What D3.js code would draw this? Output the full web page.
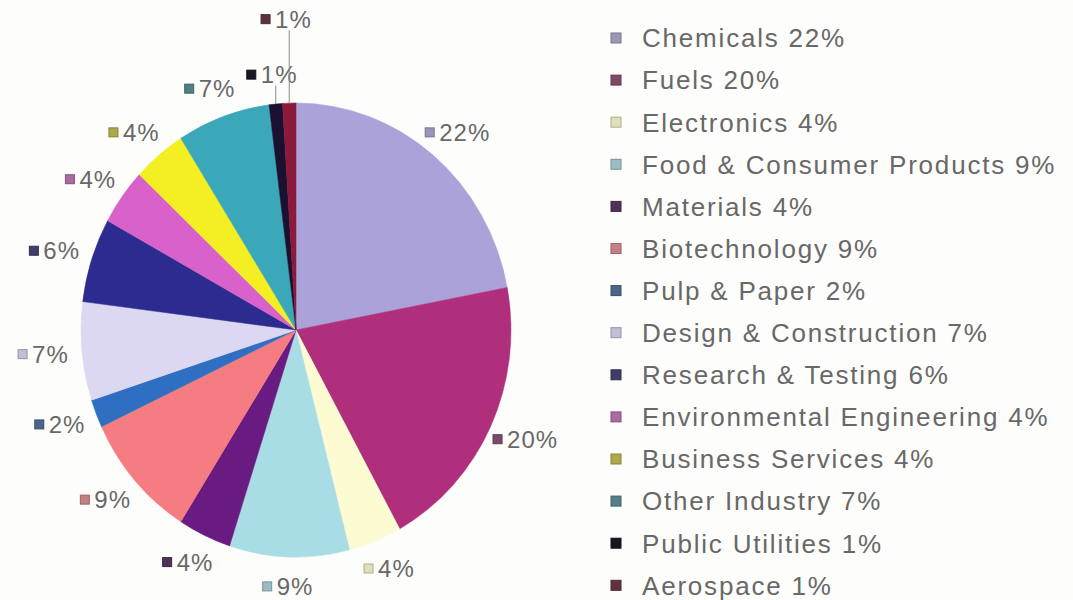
<!DOCTYPE html>
<html>
<head>
<meta charset="utf-8">
<script src="https://cdn.jsdelivr.net/npm/d3@7"></script>
<style>
  html, body { margin: 0; padding: 0; background: #fdfdfb; }
  svg { display: block; }
  text { font-family: "Liberation Sans", Arial, sans-serif; fill: #686868; }
</style>
</head>
<body>
<svg id="chart"></svg>
<script>
// industry sectors, clockwise from 12 o'clock
const categories = [
  "Chemicals", "Fuels", "Electronics", "Food & Consumer Products",
  "Materials", "Biotechnology", "Pulp & Paper", "Design & Construction",
  "Research & Testing", "Environmental Engineering", "Business Services",
  "Other Industry", "Public Utilities", "Aerospace"
];
const shares = [22, 20, 4, 9, 4, 9, 2, 7, 6, 4, 4, 7, 1, 1];
const sliceColors = [
  "#aaa2d8", "#b02f7c", "#fcfbd2", "#a9dde6",
  "#6a1b82", "#f57d82", "#2f6fc2", "#dcd8f1",
  "#2b2b90", "#d862c9", "#f3ef22", "#3ba8b9",
  "#1a1030", "#8c1a3a"
];

const width = 1073, height = 600;
const cx = 296, cy = 330, rx = 215, ry = 227;

const svg = d3.select("#chart")
  .attr("width", width)
  .attr("height", height);

const data = categories.map((c, i) => ({ name: c, value: shares[i], color: sliceColors[i] }));

// muted colour for the little key squares (like the washed out ones in the picture)
function keyColor(c) {
  let h = d3.hsl(c);
  h.s = h.s * 0.45;
  h.l = h.l * 0.88;
  return h.formatHex();
}

const pie = d3.pie().value(d => d.value).sort(null);
const arc = d3.arc().innerRadius(0).outerRadius(rx);
const arcs = pie(data);

svg.append("g")
  .attr("transform", "translate(" + cx + "," + cy + ") scale(1," + (ry / rx) + ")")
  .selectAll("path")
  .data(arcs)
  .enter()
  .append("path")
  .attr("d", arc)
  .attr("fill", d => d.data.color)
  .attr("stroke", d => d.data.color)
  .attr("stroke-width", 0.5);

// point on the (slightly stretched) pie outline, kx / ky = how far out
function onEdge(a, kx, ky) {
  return [cx + kx * rx * Math.sin(a), cy - ky * ry * Math.cos(a)];
}

// ---- data labels ----
const sq = 9, gap = 5, lh = 22;
const labels = svg.append("g").selectAll("g")
  .data(arcs)
  .enter()
  .append("g");

labels.append("rect")
  .attr("width", sq).attr("height", sq)
  .attr("fill", d => keyColor(d.data.color))
  .attr("stroke", d => d3.color(keyColor(d.data.color)).darker(0.7))
  .attr("stroke-width", 1);

labels.append("text")
  .attr("x", sq + gap)
  .attr("dy", "0.35em")
  .style("font-size", "24px")
  .style("letter-spacing", "1px")
  .text(d => d.data.value + "%");

let placed = [];
labels.each(function(d) {
  let w = sq + gap + this.querySelector("text").getComputedTextLength();
  let a = (d.startAngle + d.endAngle) / 2;
  let k = 0, box, pushed = false;
  const mk = () => {
    let p = onEdge(a, 1.18 + k, 1.13 + k);
    return { x0: p[0] - w / 2, x1: p[0] + w / 2, y0: p[1] - lh / 2 - 3, y1: p[1] + lh / 2 + 3, cx: p[0], cy: p[1] };
  };
  // push the label outwards until it stops overlapping the ones already placed
  for (let n = 0; n < 60; n++) {
    box = mk();
    let hit = placed.some(b => box.x0 < b.x1 && box.x1 > b.x0 && box.y0 < b.y1 && box.y1 > b.y0);
    if (!hit) break;
    pushed = true;
    k += 0.02;
  }
  if (pushed) { k += 0.12; box = mk(); }
  placed.push(box);
  d.box = box;
  d3.select(this).attr("transform", "translate(" + (box.cx - w / 2) + "," + box.cy + ")");
  d3.select(this).select("rect").attr("y", -sq / 2);
});

// leader lines for the tiny slices
svg.append("g").selectAll("line")
  .data(arcs.filter(d => d.data.value <= 1))
  .enter()
  .append("line")
  .attr("x1", d => onEdge((d.startAngle + d.endAngle) / 2, 1, 1)[0])
  .attr("x2", d => onEdge((d.startAngle + d.endAngle) / 2, 1, 1)[0])
  .attr("y1", d => onEdge((d.startAngle + d.endAngle) / 2, 1, 1)[1])
  .attr("y2", d => d.box.cy + lh / 2)
  .attr("stroke", "#8a8a8a")
  .attr("stroke-width", 1);

// ---- legend ----
const legend = svg.append("g")
  .attr("transform", "translate(611,38)");

const rowH = 42.1;
const items = legend.selectAll("g")
  .data(data)
  .enter()
  .append("g")
  .attr("transform", (d, i) => "translate(0," + (i * rowH) + ")");

items.append("rect")
  .attr("y", -5)
  .attr("width", 10).attr("height", 10)
  .attr("fill", d => keyColor(d.color))
  .attr("stroke", d => d3.color(keyColor(d.color)).darker(0.7))
  .attr("stroke-width", 1);

items.append("text")
  .attr("x", 31)
  .attr("dy", "0.36em")
  .style("font-size", "26px")
  .style("letter-spacing", "1.8px")
  .text(d => d.name + " " + d.value + "%");
</script>
</body>
</html>
